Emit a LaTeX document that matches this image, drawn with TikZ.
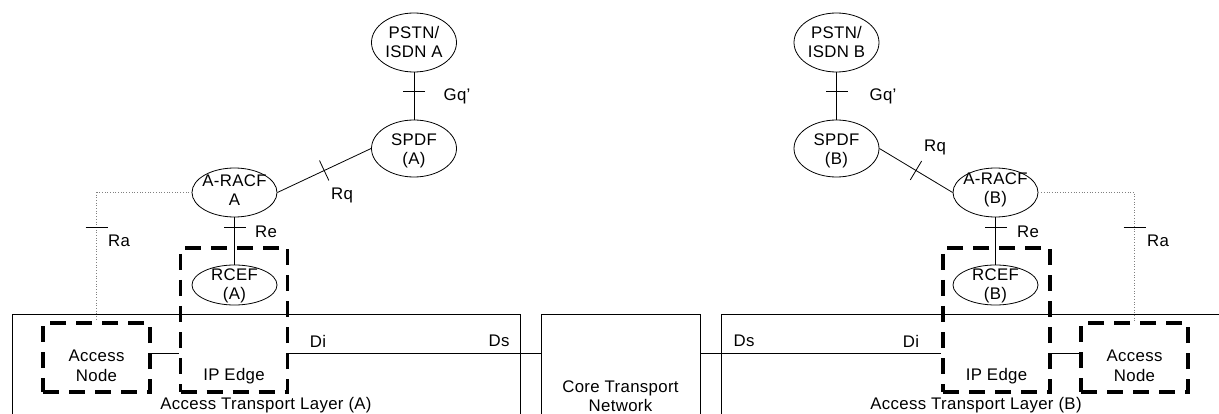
\documentclass[tikz,border=0pt]{standalone}
\usepackage{fontspec}
\setmainfont{Liberation Sans}[LetterSpace=2]
\usetikzlibrary{shapes.geometric,decorations.markings,calc}
\begin{document}
\begin{tikzpicture}[x=1pt,y=-1pt,
  font=\fontsize{16.8}{19.5}\selectfont,
  fn/.style={ellipse, draw, line width=0.8pt, inner sep=0pt, minimum width=85pt},
  lbl/.style={inner sep=0pt, align=center},
  dbox/.style={draw, line width=3.3pt, dash pattern=on 16pt off 10pt, inner sep=0pt, minimum width=107pt},
  layer/.style={draw, line width=0.8pt, inner sep=0pt, minimum height=126pt},
  conn/.style={draw, line width=0.8pt},
  dotline/.style={draw, gray, line width=0.7pt, dotted},
  ifmark/.style={postaction={decorate}, decoration={markings, mark=at position #1 with {\draw[solid, black, line width=0.8pt] (0,-11) -- (0,11);}}}
]
\useasboundingbox (0,0) rectangle (1219,414);
\clip (0,0) rectangle (1219,414);
\coordinate (lineY) at (0,353);

% layers
\node[layer, minimum width=508pt] (atlA) at (266,377) {};
\node[layer, minimum width=159pt] (core) at (620.5,377) {};
\node[layer, minimum width=519pt] (atlB) at (980.5,377) {};
\node[lbl] (atlAt) at (266,405) {Access Transport Layer (A)};
\node[lbl] (coret) at (620.5,396) {Core Transport\\Network};
\node[lbl] (atlBt) at (976,405) {Access Transport Layer (B)};

% functional entities (A)
\node[fn, minimum height=59pt] (pstnA) at (414,42.5) {};
\node[lbl] (pstnAt) at (414,42) {PSTN/\\ISDN A};
\node[fn, minimum height=57pt] (spdfA) at (414,148.5) {};
\node[lbl] (spdfAt) at (414,151) {SPDF\\(A)};
\node[fn, minimum height=49pt] (araA) at (234.5,192.5) {};
\node[lbl] (araAt) at (234.5,190) {A-RACF\\A};
\node[fn, minimum height=40pt] (rcefA) at (234.5,285) {};
\node[lbl] (rcefAt) at (234.5,286) {RCEF\\(A)};

% functional entities (B)
\node[fn, minimum height=59pt] (pstnB) at (836.5,42.5) {};
\node[lbl] (pstnBt) at (836.5,42) {PSTN/\\ISDN B};
\node[fn, minimum height=57pt] (spdfB) at (836.5,148.5) {};
\node[lbl] (spdfBt) at (836.5,151) {SPDF\\(B)};
\node[fn, minimum height=49pt] (araB) at (995.5,192.5) {};
\node[lbl] (araBt) at (995.5,190) {A-RACF\\(B)};
\node[fn, minimum height=40pt] (rcefB) at (995.5,285) {};
\node[lbl] (rcefBt) at (995.5,286) {RCEF\\(B)};

% dashed boxes
\node[dbox, minimum height=144pt] (ipA) at (234,320) {};
\node[lbl] (ipAt) at (234,376) {IP Edge};
\node[dbox, minimum height=69pt] (anA) at (96.5,357.5) {};
\node[lbl] (anAt) at (96.5,366) {Access\\Node};
\node[dbox, minimum height=144pt] (ipB) at (996.5,320) {};
\node[lbl] (ipBt) at (996.5,376) {IP Edge};
\node[dbox, minimum height=69pt] (anB) at (1134.5,357.5) {};
\node[lbl] (anBt) at (1134.5,366) {Access\\Node};

% connectors A
\draw[conn, ifmark=0.4] (pstnA) -- (spdfA);
\node[lbl] (gqA) at (457,96) {Gq'};
\draw[conn, ifmark=0.5] (araA.east) -- (spdfA.west);
\node[lbl] (rqA) at (342,195) {Rq};
\draw[conn, ifmark=0.21] (araA) -- (rcefA);
\node[lbl] (reA) at (266,232) {Re};
\draw[dotline] (araA.west) -| (anA.north);
\coordinate (raAm) at (anA.north |- 0,227);
\draw[conn] ($(raAm)+(-11,0)$) -- ($(raAm)+(11,0)$);
\node[lbl] (raA) at (119,241) {Ra};
\draw[conn] (anA.east |- lineY) -- (ipA.west |- lineY);
\draw[conn] (ipA.east |- lineY) -- (core.west |- lineY);
\node[lbl] (diA) at (318,341) {Di};
\node[lbl] (dsA) at (499,341) {Ds};

% connectors B
\draw[conn, ifmark=0.4] (pstnB) -- (spdfB);
\node[lbl] (gqB) at (883,96) {Gq'};
\draw[conn, ifmark=0.5] (spdfB.east) -- (araB.west);
\node[lbl] (rqB) at (935,147) {Rq};
\draw[conn, ifmark=0.21] (araB) -- (rcefB);
\node[lbl] (reB) at (1028,232) {Re};
\draw[dotline] (araB.east) -| (anB.north);
\coordinate (raBm) at (anB.north |- 0,227);
\draw[conn] ($(raBm)+(-11,0)$) -- ($(raBm)+(11,0)$);
\node[lbl] (raB) at (1158,241) {Ra};
\draw[conn] (core.east |- lineY) -- (ipB.west |- lineY);
\draw[conn] (ipB.east |- lineY) -- (anB.west |- lineY);
\node[lbl] (dsB) at (744,341) {Ds};
\node[lbl] (diB) at (911,341) {Di};
\end{tikzpicture}
\end{document}
